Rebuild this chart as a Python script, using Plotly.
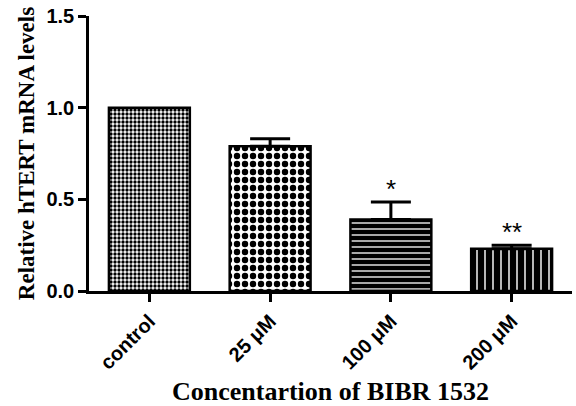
import plotly.graph_objects as go

categories = ["control", "25 μM", "100 μM", "200 μM"]
values = [1.0, 0.79, 0.39, 0.23]
errors = [0.0, 0.04, 0.095, 0.02]
stars = ["", "", "*", "**"]
y_ticks = [0.0, 0.5, 1.0, 1.5]
y_tick_text = ["0.0", "0.5", "1.0", "1.5"]

fig = go.Figure()

patterns = [
    dict(shape=".", size=4, solidity=0.55, fgcolor="black", bgcolor="white", fillmode="replace"),
    dict(shape=".", size=8, solidity=0.5, fgcolor="black", bgcolor="white", fillmode="replace"),
    dict(shape="-", size=6, solidity=0.22, fgcolor="white", bgcolor="black", fillmode="replace"),
    dict(shape="|", size=8, solidity=0.18, fgcolor="white", bgcolor="black", fillmode="replace"),
]

for i, cat in enumerate(categories):
    fig.add_trace(go.Bar(
        x=[cat], y=[values[i]],
        width=0.67,
        marker=dict(color="white", line=dict(color="black", width=2.5), pattern=patterns[i]),
        error_y=dict(type="data", symmetric=False, array=[errors[i]], arrayminus=[0],
                     color="black", thickness=3, width=20, visible=errors[i] > 0),
        showlegend=False,
    ))

for i, cat in enumerate(categories):
    if stars[i]:
        fig.add_annotation(x=cat, y=values[i] + errors[i], text=stars[i], showarrow=False,
                           yanchor="bottom", yshift=-4,
                           font=dict(family="Liberation Sans", size=26, color="black"))

fig.update_layout(
    width=576, height=406,
    margin=dict(l=89, r=4, t=16, b=112),
    plot_bgcolor="white", paper_bgcolor="white",
    font=dict(family="Liberation Sans", color="black"),
)
fig.update_xaxes(
    type="category", categoryorder="array", categoryarray=categories,
    range=[-0.5, 3.5],
    showline=True, linecolor="black", linewidth=2.5, mirror=False,
    ticks="outside", ticklen=8, tickwidth=2.5, tickcolor="black",
    tickangle=-45, showgrid=False,
    tickfont=dict(family="Liberation Sans", size=20, color="black", weight="bold"),
    title=dict(text="<b>Concentartion of BIBR 1532</b>", standoff=10,
               font=dict(family="Liberation Serif", size=26, color="black")),
)
fig.update_yaxes(
    range=[0, 1.5], tickvals=y_ticks, ticktext=y_tick_text,
    showline=True, linecolor="black", linewidth=2.5,
    ticks="outside", ticklen=8, tickwidth=2.5, tickcolor="black",
    showgrid=False, zeroline=False,
    tickfont=dict(family="Liberation Sans", size=20, color="black", weight="bold"),
    title=dict(text="<b>Relative hTERT mRNA levels</b>", standoff=6,
               font=dict(family="Liberation Serif", size=23, color="black")),
)

fig.write_html("out.html")
